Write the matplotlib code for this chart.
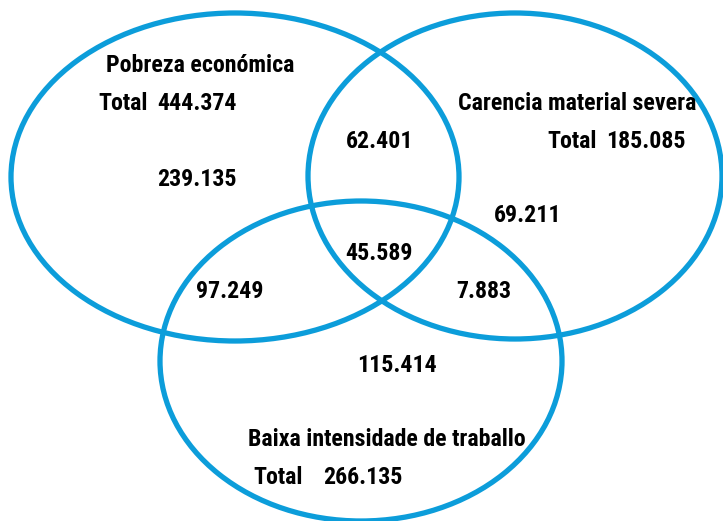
import matplotlib
matplotlib.use("Agg")
import matplotlib.pyplot as plt
from matplotlib.patches import Ellipse

# ---- data ----
sets = ["Pobreza económica", "Carencia material severa", "Baixa intensidade de traballo"]
set_totals = ["444.374", "185.085", "266.135"]
region_names = ["only_pobreza", "pobreza_carencia", "only_carencia", "all_three",
                "pobreza_baixa", "carencia_baixa", "only_baixa"]
region_values = ["239.135", "62.401", "69.211", "45.589", "97.249", "7.883", "115.414"]

# ---- layout (pixel coords, y downward) ----
ellipses = [(235, 177, 448, 328), (515, 176, 414, 326), (361, 361, 402, 320)]
label_pos = [(200, 65), (577, 103), (387, 440)]
total_word_pos = [(98, 104), (547, 142), (253, 478)]
total_val_pos = [(197, 104), (646, 142), (363, 478)]
region_pos = [(197, 179), (380, 142), (528, 215), (379, 254),
              (230, 292), (484, 292), (397, 366)]

blue = "#0C9DDA"
fam = ["Roboto Condensed", "Liberation Sans", "DejaVu Sans"]
fs = 17.2

fig = plt.figure(figsize=(7.23, 5.21), dpi=100)
ax = fig.add_axes([0, 0, 1, 1])
ax.set_xlim(0, 723)
ax.set_ylim(521, 0)
ax.axis("off")

for (cx, cy, w, h) in ellipses:
    ax.add_patch(Ellipse((cx, cy), w, h, fill=False, edgecolor=blue, linewidth=3.8))

for name, (x, y) in zip(sets, label_pos):
    ax.text(x, y, name, ha="center", va="center", fontsize=fs, fontweight="bold", family=fam)

for tot, (x, y), (vx, vy) in zip(set_totals, total_word_pos, total_val_pos):
    ax.text(x, y, "Total", ha="left", va="center", fontsize=fs, fontweight="bold", family=fam)
    ax.text(vx, vy, tot, ha="center", va="center", fontsize=fs, fontweight="bold", family=fam)

for val, (x, y) in zip(region_values, region_pos):
    ax.text(x, y, val, ha="center", va="center", fontsize=fs, fontweight="bold", family=fam)

fig.savefig("out.png", dpi=100)
